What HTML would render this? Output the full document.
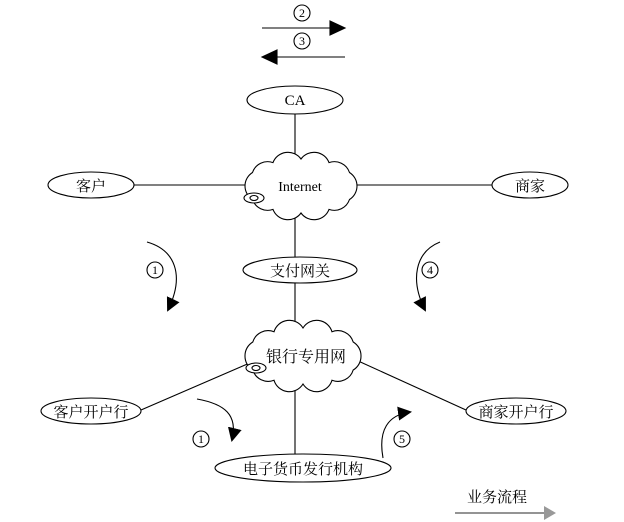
<!DOCTYPE html>
<html><head><meta charset="utf-8"><style>
html,body{margin:0;padding:0;background:#fff;width:624px;height:522px;overflow:hidden}
svg{display:block}
text{font-family:"Liberation Serif","Noto Serif CJK SC","Noto Sans CJK SC",serif;fill:#000}
</style></head><body>
<svg width="624" height="522" viewBox="0 0 624 522" xmlns="http://www.w3.org/2000/svg">
<defs>
<marker id="ah2" markerWidth="14" markerHeight="14" refX="12" refY="7" orient="auto" markerUnits="userSpaceOnUse"><path d="M0,0 L14,7 L0,14 z" fill="#000"/></marker>
</defs>
<g stroke="#000" stroke-width="1.1" fill="none">
<line x1="262" y1="28" x2="332" y2="28"/><path d="M330,21 L345,28 L330,35 z" fill="#000"/>
<line x1="277" y1="57" x2="345" y2="57"/><path d="M277,50 L262,57 L277,64 z" fill="#000"/>
<line x1="295" y1="114" x2="295" y2="160"/>
<line x1="134" y1="185" x2="247" y2="185"/>
<line x1="356" y1="185" x2="492" y2="185"/>
<line x1="295" y1="212" x2="295" y2="257"/>
<line x1="295" y1="283" x2="295" y2="330"/>
<line x1="141" y1="410" x2="252" y2="362"/>
<line x1="356" y1="360" x2="466" y2="410"/>
<line x1="295" y1="382" x2="295" y2="454"/>
<ellipse cx="295" cy="100" rx="48" ry="14" fill="#fff"/>
<ellipse cx="91" cy="185" rx="43" ry="13" fill="#fff"/>
<ellipse cx="530" cy="185" rx="38" ry="13" fill="#fff"/>
<ellipse cx="300" cy="270" rx="57" ry="13" fill="#fff"/>
<ellipse cx="91" cy="411" rx="50" ry="13" fill="#fff"/>
<ellipse cx="516" cy="411" rx="50" ry="13" fill="#fff"/>
<ellipse cx="303" cy="468" rx="88" ry="14" fill="#fff"/>
<path fill="#fff" d="M357,186 A16,16 0 0 1 349.5,199.5 A16,16 0 0 1 329,209.4 A16,16 0 0 1 301,213 A16,16 0 0 1 273,209.4 A16,16 0 0 1 252.5,199.5 A16,16 0 0 1 245,186 A16,16 0 0 1 252.5,172.5 A16,16 0 0 1 273,162.6 A16,16 0 0 1 301,159 A16,16 0 0 1 329,162.6 A16,16 0 0 1 349.5,172.5 A16,16 0 0 1 357,186 z"/>
<path fill="#fff" d="M361,356 A16,16 0 0 1 353.2,370 A16,16 0 0 1 332,380.2 A16,16 0 0 1 303,384 A16,16 0 0 1 274,380.2 A16,16 0 0 1 252.8,370 A16,16 0 0 1 245,356 A16,16 0 0 1 252.8,342 A16,16 0 0 1 274,331.8 A16,16 0 0 1 303,328 A16,16 0 0 1 332,331.8 A16,16 0 0 1 353.2,342 A16,16 0 0 1 361,356 z"/>
<ellipse cx="254" cy="198" rx="10" ry="5" fill="#fff"/><ellipse cx="254" cy="198" rx="4" ry="2.5"/>
<ellipse cx="256" cy="368" rx="10" ry="5" fill="#fff"/><ellipse cx="256" cy="368" rx="4" ry="2.5"/>
<path d="M147,242 C175,250 185,275 168,310" marker-end="url(#ah2)"/>
<path d="M440,242 C415,252 410,280 425,310" marker-end="url(#ah2)"/>
<path d="M197,399 C225,404 238,415 232,440" marker-end="url(#ah2)"/>
<path d="M383,458 C378,430 388,415 410,412" marker-end="url(#ah2)"/>
<circle cx="302" cy="13" r="8"/><circle cx="302" cy="41" r="8"/>
<circle cx="155" cy="270" r="8"/><circle cx="430" cy="270" r="8"/>
<circle cx="201" cy="439" r="8"/><circle cx="402" cy="439" r="8"/>
</g>
<g font-size="12" text-anchor="middle">
<text x="302" y="17">2</text><text x="302" y="45">3</text>
<text x="155" y="274">1</text><text x="430" y="274">4</text>
<text x="201" y="443">1</text><text x="402" y="443">5</text>
</g>
<g font-size="15" text-anchor="middle">
<text x="295" y="105">CA</text>
<text x="300" y="191" font-size="14">Internet</text>
<text x="91" y="191" font-family="Liberation Sans,'Noto Sans CJK SC',sans-serif">客户</text>
<text x="530" y="191" font-family="Liberation Sans,'Noto Sans CJK SC',sans-serif">商家</text>
<text x="300" y="276" font-family="Liberation Sans,'Noto Sans CJK SC',sans-serif">支付网关</text>
<text x="306" y="362" font-size="16" font-family="Liberation Sans,'Noto Sans CJK SC',sans-serif">银行专用网</text>
<text x="91" y="417" font-family="Liberation Sans,'Noto Sans CJK SC',sans-serif">客户开户行</text>
<text x="516" y="417" font-family="Liberation Sans,'Noto Sans CJK SC',sans-serif">商家开户行</text>
<text x="303" y="474" font-family="Liberation Sans,'Noto Sans CJK SC',sans-serif">电子货币发行机构</text>
<text x="497" y="502" font-family="Liberation Sans,'Noto Sans CJK SC',sans-serif" fill="#333">业务流程</text>
</g>
<line x1="455" y1="513" x2="545" y2="513" stroke="#555" stroke-width="1.2"/>
<path d="M544,506 L556,513 L544,520 z" fill="#999"/>
</svg>
</body></html>
